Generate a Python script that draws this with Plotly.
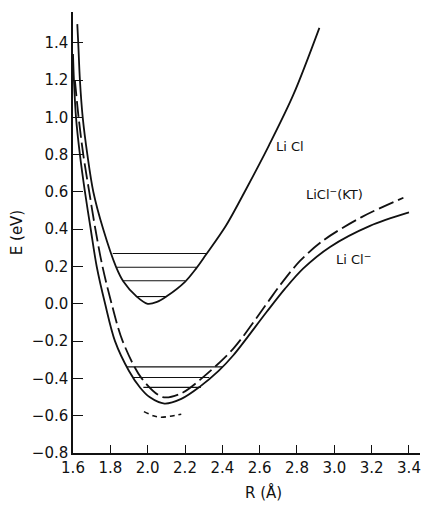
import plotly.graph_objects as go

# ---- data ----
licl_R = [1.623, 1.628, 1.637, 1.652, 1.677, 1.709, 1.762, 1.83, 1.87, 1.94, 2.0, 2.05, 2.10, 2.20, 2.26, 2.31, 2.42, 2.53, 2.65, 2.78, 2.92]
licl_E = [1.50, 1.40, 1.20, 1.00, 0.80, 0.60, 0.40, 0.20, 0.12, 0.04, 0.0, 0.010, 0.039, 0.118, 0.19, 0.26, 0.42, 0.62, 0.85, 1.12, 1.48]

licl_minus_R = [1.600, 1.605, 1.616, 1.637, 1.664, 1.695, 1.727, 1.772, 1.825, 1.90, 1.96, 2.01, 2.09, 2.18, 2.28, 2.38, 2.459, 2.637, 2.735, 2.834, 2.977, 3.191, 3.40]
licl_minus_E = [1.34, 1.20, 1.00, 0.80, 0.60, 0.40, 0.20, 0.00, -0.20, -0.36, -0.45, -0.50, -0.535, -0.51, -0.444, -0.36, -0.276, -0.044, 0.08, 0.19, 0.305, 0.418, 0.49]

licl_kt_R = [1.610, 1.630, 1.655, 1.687, 1.720, 1.758, 1.807, 1.866, 1.968, 2.08, 2.18, 2.28, 2.459, 2.637, 2.708, 2.816, 2.941, 3.146, 3.37]
licl_kt_E = [1.20, 1.00, 0.80, 0.60, 0.40, 0.20, 0.00, -0.20, -0.40, -0.50, -0.48, -0.408, -0.24, 0.0, 0.098, 0.23, 0.340, 0.465, 0.569]

arc_R = [1.98, 2.03, 2.07, 2.12, 2.18]
arc_E = [-0.578, -0.600, -0.608, -0.603, -0.592]

licl_levels_E = [0.270, 0.196, 0.124, 0.039]
licl_levels_Rl = [1.813, 1.834, 1.866, 1.937]
licl_levels_Rr = [2.313, 2.263, 2.200, 2.102]

minus_levels_E = [-0.338, -0.395, -0.448]
minus_levels_Rl = [1.89, 1.92, 1.977]
minus_levels_Rr = [2.40, 2.33, 2.285]

x_ticks = [1.6, 1.8, 2.0, 2.2, 2.4, 2.6, 2.8, 3.0, 3.2, 3.4]
y_ticks = [-0.8, -0.6, -0.4, -0.2, 0.0, 0.2, 0.4, 0.6, 0.8, 1.0, 1.2, 1.4]

curve_labels = ["Li Cl", "LiCl<sup>−</sup>(KT)", "Li Cl<sup>−</sup>"]
label_R = [2.762, 3.003, 3.105]
label_E = [0.845, 0.587, 0.240]

INK = "#111111"
FONT = "DejaVu Sans"

fig = go.Figure()

def seg_lists(Rl, Rr, E):
    xs, ys = [], []
    for a, b, e in zip(Rl, Rr, E):
        xs += [a, b, None]
        ys += [e, e, None]
    return xs, ys

xs, ys = seg_lists(licl_levels_Rl, licl_levels_Rr, licl_levels_E)
fig.add_trace(go.Scatter(x=xs, y=ys, mode="lines", line=dict(color=INK, width=1.1), hoverinfo="skip"))
xs, ys = seg_lists(minus_levels_Rl, minus_levels_Rr, minus_levels_E)
fig.add_trace(go.Scatter(x=xs, y=ys, mode="lines", line=dict(color=INK, width=1.1), hoverinfo="skip"))

fig.add_trace(go.Scatter(x=licl_R, y=licl_E, mode="lines",
                         line=dict(color=INK, width=1.8, shape="spline", smoothing=0.9)))
fig.add_trace(go.Scatter(x=licl_minus_R, y=licl_minus_E, mode="lines",
                         line=dict(color=INK, width=1.8, shape="spline", smoothing=0.9)))
fig.add_trace(go.Scatter(x=licl_kt_R, y=licl_kt_E, mode="lines",
                         line=dict(color=INK, width=1.8, shape="spline", smoothing=0.9, dash="16px,5px")))
fig.add_trace(go.Scatter(x=arc_R, y=arc_E, mode="lines",
                         line=dict(color=INK, width=1.6, shape="spline", smoothing=0.8, dash="5px,4px")))

for t, rx, ey in zip(curve_labels, label_R, label_E):
    fig.add_annotation(x=rx, y=ey, xref="x", yref="y", text=t, showarrow=False,
                       xanchor="center", yanchor="middle",
                       font=dict(family=FONT, size=13, color=INK))

fig.add_annotation(x=2.623, xref="x", y=-0.09, yref="paper", xanchor="center", yanchor="middle",
                   text="R (Å)", showarrow=False, font=dict(family=FONT, size=15, color=INK))

fig.update_layout(
    width=423, height=505,
    margin=dict(l=73, r=3, t=12, b=52),
    paper_bgcolor="white", plot_bgcolor="white",
    showlegend=False,
    font=dict(family=FONT, size=15, color=INK),
    xaxis=dict(range=[1.6, 3.459], tickvals=x_ticks, ticktext=[f"{v:.1f}" for v in x_ticks],
               ticks="inside", ticklen=8, tickwidth=1, tickcolor=INK,
               showline=True, linecolor=INK, linewidth=1.5, showgrid=False, zeroline=False,
               tickfont=dict(family=FONT, size=15, color=INK)),
    yaxis=dict(range=[-0.8, 1.565], tickvals=y_ticks, ticktext=[f"{v:.1f}".replace("-", "−") for v in y_ticks],
               ticks="inside", ticklen=10, tickwidth=1, tickcolor=INK,
               showline=True, linecolor=INK, linewidth=1.5, showgrid=False, zeroline=False,
               title=dict(text="E (eV)", standoff=6, font=dict(family=FONT, size=15, color=INK)),
               tickfont=dict(family=FONT, size=15, color=INK)),
)

fig.write_html("out.html")
